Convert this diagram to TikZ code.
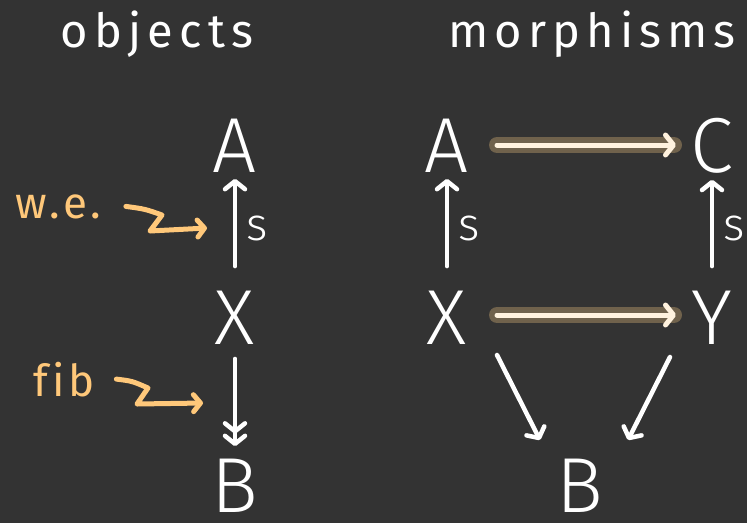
\documentclass[tikz,border=0pt]{standalone}
\usepackage{fontspec}
\setmainfont{Fira Sans Light}
\newfontfamily\headfont{Fira Sans}[LetterSpace=13, Ligatures=NoCommon]
\newfontfamily\notefont{Fira Sans}[LetterSpace=8, Ligatures=NoCommon]
\usetikzlibrary{arrows.meta}
\definecolor{boardcol}{RGB}{51,51,51}
\definecolor{notecol}{RGB}{255,200,122}
\definecolor{glowcol}{RGB}{112,98,76}
\definecolor{hotcol}{RGB}{255,242,222}
\begin{document}
\begin{tikzpicture}[x=1pt, y=-1pt,
  obj/.style={text=white, font=\fontsize{78}{78}\selectfont, inner sep=0pt},
  title/.style={text=white, font=\headfont\fontsize{47}{47}\selectfont, anchor=base},
  lbl/.style={text=white, font=\fontsize{46}{46}\selectfont, inner sep=0pt},
  note/.style={text=notecol, font=\notefont\fontsize{44}{44}\selectfont, inner sep=0pt, anchor=base},
  barb/.tip={Straight Barb[length=8pt, width=20pt, line cap=round, line join=round]},
  arr/.style={draw=white, line width=4.5pt, line cap=round, -barb},
  fibarr/.style={draw=white, line width=4.5pt, line cap=round, -{barb[]barb}},
  glow/.style={draw=glowcol, line width=16pt, line cap=round},
  hot/.style={draw=hotcol, line width=5pt, line cap=round, -barb},
  squig/.style={draw=notecol, line width=5pt, line cap=round, line join=round,
    -{Straight Barb[length=7pt, width=17pt, line cap=round, line join=round]}}]
% Board
\fill[boardcol] (0,0) rectangle (747,523);
\useasboundingbox (0,0) rectangle (747,523);
% Headings
\node[title] (hobj) at (157,47) {objects};
\node[title] (hmor) at (592,47) {morphisms};
% Objects column
\node[obj] (Al) at (235,146) {A};
\node[obj] (Xl) at (235,318) {X};
\node[obj] (Bl) at (235,486) {B};
\draw[arr, shorten <=25pt, shorten >=6pt] (Xl) -- (Al);
\draw[fibarr, shorten <=14pt, shorten >=13pt] (Xl) -- (Bl);
\node[lbl] (sl) at (257,228) {s};
% Notes on the left
\node[note] (we) at (58,218) {w.e.};
\node[note] (fib) at (64,396) {fib};
\coordinate (weTip) at (207,228);
\coordinate (fibTip) at (203,403);
\draw[squig] ([xshift=25pt]we.east) .. controls (145,209) .. (162,215)
  -- (150,231) -- (weTip);
\draw[squig] ([xshift=22pt]fib.east) .. controls (132,381) .. (148,388)
  -- (137,404) -- (fibTip);
% Morphisms square
\node[obj] (Ar) at (447,146) {A};
\node[obj] (Cr) at (712,146) {C};
\node[obj] (Xr) at (447,318) {X};
\node[obj] (Yr) at (712,318) {Y};
\node[obj] (Br) at (580,486) {B};
\draw[arr, shorten <=25pt, shorten >=6pt] (Xr) -- (Ar);
\draw[arr, shorten <=25pt, shorten >=6pt] (Yr) -- (Cr);
\node[lbl] (sa) at (469,228) {s};
\node[lbl] (sc) at (734,228) {s};
% Highlighted horizontal maps
\draw[glow] ([shift={(50,-1)}]Ar.center) -- ([shift={(-38,-1)}]Cr.center);
\draw[hot] ([shift={(50,-1)}]Ar.center) -- ([shift={(-36,-1)}]Cr.center);
\draw[glow] ([shift={(50,-3)}]Xr.center) -- ([shift={(-38,-3)}]Yr.center);
\draw[hot] ([shift={(50,-3)}]Xr.center) -- ([shift={(-36,-3)}]Yr.center);
% Maps down to B
\draw[arr] ([shift={(50,37)}]Xr.center) -- ([shift={(-40,-46)}]Br.center);
\draw[arr] ([shift={(-42,39)}]Yr.center) -- ([shift={(48,-46)}]Br.center);
\end{tikzpicture}
\end{document}
